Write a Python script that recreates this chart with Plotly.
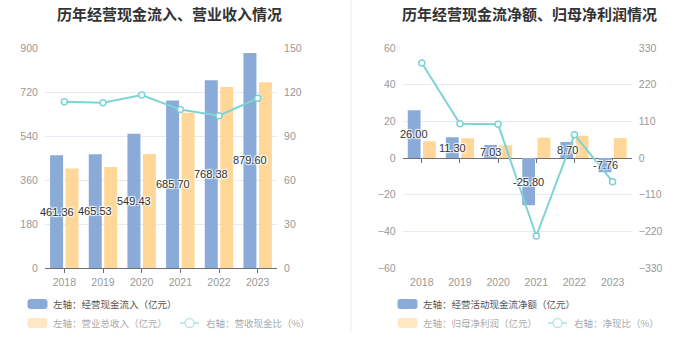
import plotly.graph_objects as go

# ---------------- data ----------------
years = ['2018', '2019', '2020', '2021', '2022', '2023']
cash_inflow = [461.36, 465.53, 549.43, 685.70, 768.38, 879.60]   # 经营现金流入（亿元）
revenue = [407, 413, 466, 635, 740, 760]                          # 营业总收入（亿元）
cash_ratio = [113.3, 112.7, 117.9, 108.0, 103.8, 115.7]           # 营收现金比（%）

net_cash = [26.00, 11.30, 7.03, -25.80, 8.70, -7.76]             # 经营活动现金流净额（亿元）
net_profit = [9.1, 10.8, 7.0, 11.0, 12.2, 10.9]                   # 归母净利润（亿元）
net_cash_ratio = [285, 103, 101, -234, 70, -71]                   # 净现比（%）

left_labels = ['%.2f' % v for v in cash_inflow]
right_labels = ['%.2f' % v for v in net_cash]

W, H = 699, 359
def px(x): return x / W
def py(y): return 1 - y / H

BLUE = '#8AAAD8'
ORANGE = '#FFD899'
TEAL = '#7DD3D5'
GRID = '#E6EAF2'
AXIS = '#6E7079'
TICK = '#999999'
FONT = 'Liberation Sans, Noto Sans CJK SC, sans-serif'
CJK = 'Noto Sans CJK SC, sans-serif'

ydom = [py(268), py(48)]
shadow = '1px 1px 1px #fff, -1px -1px 1px #fff, 1px -1px 1px #fff, -1px 1px 1px #fff'

fig = go.Figure()

# left chart
fig.add_trace(go.Bar(x=years, y=cash_inflow, marker_color=BLUE, xaxis='x', yaxis='y', hoverinfo='skip'))
fig.add_trace(go.Bar(x=years, y=revenue, marker_color=ORANGE, xaxis='x', yaxis='y', hoverinfo='skip'))
fig.add_trace(go.Scatter(x=years, y=cash_ratio, mode='lines+markers', xaxis='x', yaxis='y2',
                         line=dict(color=TEAL, width=2),
                         marker=dict(symbol='circle', size=6, color='white', line=dict(color=TEAL, width=1.5)),
                         hoverinfo='skip'))
# right chart
fig.add_trace(go.Bar(x=years, y=net_cash, marker_color=BLUE, xaxis='x2', yaxis='y3', hoverinfo='skip'))
fig.add_trace(go.Bar(x=years, y=net_profit, marker_color=ORANGE, xaxis='x2', yaxis='y3', hoverinfo='skip'))
fig.add_trace(go.Scatter(x=years, y=net_cash_ratio, mode='lines+markers', xaxis='x2', yaxis='y4',
                         line=dict(color=TEAL, width=2),
                         marker=dict(symbol='circle', size=6, color='white', line=dict(color=TEAL, width=1.5)),
                         hoverinfo='skip'))
# invisible helper for tick marks on the zero line
fig.add_trace(go.Scatter(x=years, y=[0] * len(years), mode='markers', marker=dict(opacity=0),
                         xaxis='x3', yaxis='y3', hoverinfo='skip'))

tickfont = dict(size=10.5, color=TICK, family=FONT)
common = dict(automargin=False, fixedrange=True)

fig.update_layout(
    template='none',
    width=W, height=H, margin=dict(l=0, r=0, t=0, b=0, pad=0),
    paper_bgcolor='white', plot_bgcolor='white', showlegend=False,
    barmode='group', bargap=0.2, bargroupgap=0.16,
    font=dict(family=FONT),
    xaxis=dict(domain=[px(45), px(277)], anchor='y', type='category', range=[-0.5, 5.5],
               showline=True, linecolor=AXIS, linewidth=1, ticks='outside', ticklen=4, tickcolor=AXIS,
               tickfont=tickfont, showgrid=False, zeroline=False, **common),
    yaxis=dict(domain=ydom, anchor='x', range=[0, 900], dtick=180, gridcolor=GRID, zeroline=False,
               showline=False, tickfont=tickfont, ticks='outside', ticklen=4, tickcolor='rgba(0,0,0,0)',
               **common),
    yaxis2=dict(overlaying='y', side='right', anchor='x', range=[0, 150], dtick=30, showgrid=False,
                zeroline=False, showline=False, tickfont=tickfont, ticks='outside', ticklen=4,
                tickcolor='rgba(0,0,0,0)', **common),
    xaxis2=dict(domain=[px(402.7), px(631.7)], anchor='y3', type='category', range=[-0.5, 5.5],
                showline=False, ticks='outside', ticklen=4, tickcolor='rgba(0,0,0,0)',
                tickfont=tickfont, showgrid=False, zeroline=False, **common),
    xaxis3=dict(overlaying='x2', anchor='free', position=(ydom[0] + ydom[1]) / 2, type='category',
                range=[-0.5, 5.5], showline=False, ticks='outside', ticklen=4, tickcolor=AXIS,
                showticklabels=False, showgrid=False, zeroline=False, **common),
    yaxis3=dict(domain=ydom, anchor='x2', range=[-60, 60], dtick=20, gridcolor=GRID, zeroline=True,
                zerolinecolor=AXIS, zerolinewidth=1, showline=False, tickfont=tickfont,
                ticks='outside', ticklen=4, tickcolor='rgba(0,0,0,0)', **common),
    yaxis4=dict(overlaying='y3', side='right', anchor='x2', range=[-330, 330], dtick=110, showgrid=False,
                zeroline=False, showline=False, tickfont=tickfont, ticks='outside', ticklen=4,
                tickcolor='rgba(0,0,0,0)', **common),
)

ann = []
# value labels centred on the blue bars (category index, shifted onto the first bar of each group)
for i, (v, t) in enumerate(zip(cash_inflow, left_labels)):
    ann.append(dict(x=i, y=v / 2, xref='x', yref='y', text=t, showarrow=False, xshift=-7.7,
                    xanchor='center', yanchor='middle',
                    font=dict(size=11, color='#333333', family=FONT, shadow=shadow)))
for i, (v, t) in enumerate(zip(net_cash, right_labels)):
    ann.append(dict(x=i, y=v / 2, xref='x2', yref='y3', text=t, showarrow=False, xshift=-7.4,
                    xanchor='center', yanchor='middle',
                    font=dict(size=11, color='#333333', family=FONT, shadow=shadow)))
# titles
ann.append(dict(x=px(169), y=py(14), xref='paper', yref='paper', showarrow=False,
                xanchor='center', yanchor='middle',
                text='<b>历年经营现金流入、营业收入情况</b>', font=dict(size=15, color='#333', family=CJK)))
ann.append(dict(x=px(529), y=py(14), xref='paper', yref='paper', showarrow=False,
                xanchor='center', yanchor='middle',
                text='<b>历年经营现金流净额、归母净利润情况</b>', font=dict(size=15, color='#333', family=CJK)))

shapes = [dict(type='line', xref='paper', yref='paper', x0=px(351), x1=px(351), y0=py(0), y1=py(333),
               line=dict(color='#EEEEEE', width=1))]

def rrect(x0, y0, x1, y1, r, color):
    p = (f'M {px(x0 + r)} {py(y0)} L {px(x1 - r)} {py(y0)} Q {px(x1)} {py(y0)} {px(x1)} {py(y0 + r)} '
         f'L {px(x1)} {py(y1 - r)} Q {px(x1)} {py(y1)} {px(x1 - r)} {py(y1)} '
         f'L {px(x0 + r)} {py(y1)} Q {px(x0)} {py(y1)} {px(x0)} {py(y1 - r)} '
         f'L {px(x0)} {py(y0 + r)} Q {px(x0)} {py(y0)} {px(x0 + r)} {py(y0)} Z')
    return dict(type='path', xref='paper', yref='paper', path=p, fillcolor=color, line=dict(width=0))

def legend_block(x_rect, x_text, t1, t2, x_line0, x_line1, x_t3, t3):
    shapes.append(rrect(x_rect, 299, x_rect + 20, 309, 3, BLUE))
    shapes.append(rrect(x_rect, 318, x_rect + 20, 328, 3, '#FFE7C4'))
    shapes.append(dict(type='line', xref='paper', yref='paper', x0=px(x_line0), x1=px(x_line1),
                       y0=py(323), y1=py(323), line=dict(color='#B8E9EA', width=2)))
    cx = (x_line0 + x_line1) / 2
    shapes.append(dict(type='circle', xref='paper', yref='paper', x0=px(cx - 4.5), x1=px(cx + 4.5),
                       y0=py(327.5), y1=py(318.5), fillcolor='white', line=dict(color='#B8E9EA', width=1.5)))
    ann.append(dict(x=px(x_text), y=py(304), xref='paper', yref='paper', xanchor='left', yanchor='middle',
                    showarrow=False, text=t1, font=dict(size=9.5, color='#555', family=CJK)))
    ann.append(dict(x=px(x_text), y=py(323), xref='paper', yref='paper', xanchor='left', yanchor='middle',
                    showarrow=False, text=t2, font=dict(size=9.5, color='#AAAAAA', family=CJK)))
    ann.append(dict(x=px(x_t3), y=py(323), xref='paper', yref='paper', xanchor='left', yanchor='middle',
                    showarrow=False, text=t3, font=dict(size=9.5, color='#AAAAAA', family=CJK)))

legend_block(27.5, 51, '左轴：经营现金流入（亿元）', '左轴：营业总收入（亿元）', 180, 199, 204, '右轴：营收现金比（%）')
legend_block(397.5, 420.5, '左轴：经营活动现金流净额（亿元）', '左轴：归母净利润（亿元）', 548, 567, 572, '右轴：净现比（%）')

fig.update_layout(annotations=ann, shapes=shapes)
fig.write_html('out.html', config={'displayModeBar': False},
               post_script="document.body.style.margin='0px';document.body.style.padding='0px';")
